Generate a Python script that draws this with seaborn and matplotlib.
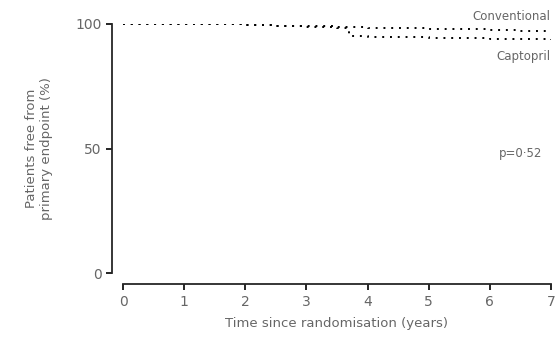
import matplotlib
matplotlib.use("Agg")
import matplotlib.pyplot as plt
import seaborn as sns
import pandas as pd

# step-curve data (years, % free from primary endpoint)
conv_time = [0, 0.5, 1.0, 1.3, 2.0, 2.5, 3.0, 3.5, 4.0, 4.5, 5.0, 5.5, 6.0, 6.5, 7.0]
conv_surv = [100, 100, 100, 99.8, 99.5, 99.3, 99.0, 98.8, 98.5, 98.3, 98.0, 97.8, 97.5, 97.3, 97.0]
capt_time = [0, 0.5, 1.0, 1.3, 2.0, 2.5, 3.0, 3.5, 3.7, 4.0, 4.5, 5.0, 5.5, 6.0, 6.5, 7.0]
capt_surv = [100, 100, 100, 99.8, 99.5, 99.2, 98.8, 98.5, 95.0, 94.8, 94.6, 94.4, 94.2, 94.0, 93.8, 93.5]

x_ticks = [0, 1, 2, 3, 4, 5, 6, 7]
y_ticks = [0, 50, 100]
p_text = "p=0·52"

df = pd.concat([
    pd.DataFrame({"time": conv_time, "surv": conv_surv, "group": "Conventional"}),
    pd.DataFrame({"time": capt_time, "surv": capt_surv, "group": "Captopril"}),
])

sns.set_style("ticks")
plt.rcParams["font.family"] = ["DejaVu Sans"]
grey = "#666666"

fig = plt.figure(figsize=(5.57, 3.41), dpi=100)
ax = fig.add_axes([0.221, 0.199, 0.768, 0.731])

for name, sub in df.groupby("group"):
    sns.lineplot(data=sub, x="time", y="surv", ax=ax, color="black",
                 linewidth=1.4, linestyle=(0, (1, 3)), drawstyle="steps-post",
                 estimator=None, sort=False)

ax.set_xlim(0, 7)
ax.set_ylim(0, 100)
ax.set_xticks(x_ticks)
ax.set_yticks(y_ticks)
ax.tick_params(axis="both", colors="black", labelcolor=grey, labelsize=10,
               length=4, width=1.2)
for s in ["left", "bottom"]:
    ax.spines[s].set_linewidth(1.3)
sns.despine(ax=ax, offset=8, trim=True)

ax.set_xlabel("Time since randomisation (years)", color=grey, fontsize=9.5, labelpad=6)
ax.set_ylabel("Patients free from\nprimary endpoint (%)", color=grey, fontsize=9.5, labelpad=16)

ax.text(7.0, 103, "Conventional", ha="right", va="center", color=grey, fontsize=8.5)
ax.text(7.0, 87, "Captopril", ha="right", va="center", color=grey, fontsize=8.5)
ax.text(6.5, 48, p_text, ha="center", va="center", color=grey, fontsize=8.5)

fig.savefig("out.png", dpi=100)
